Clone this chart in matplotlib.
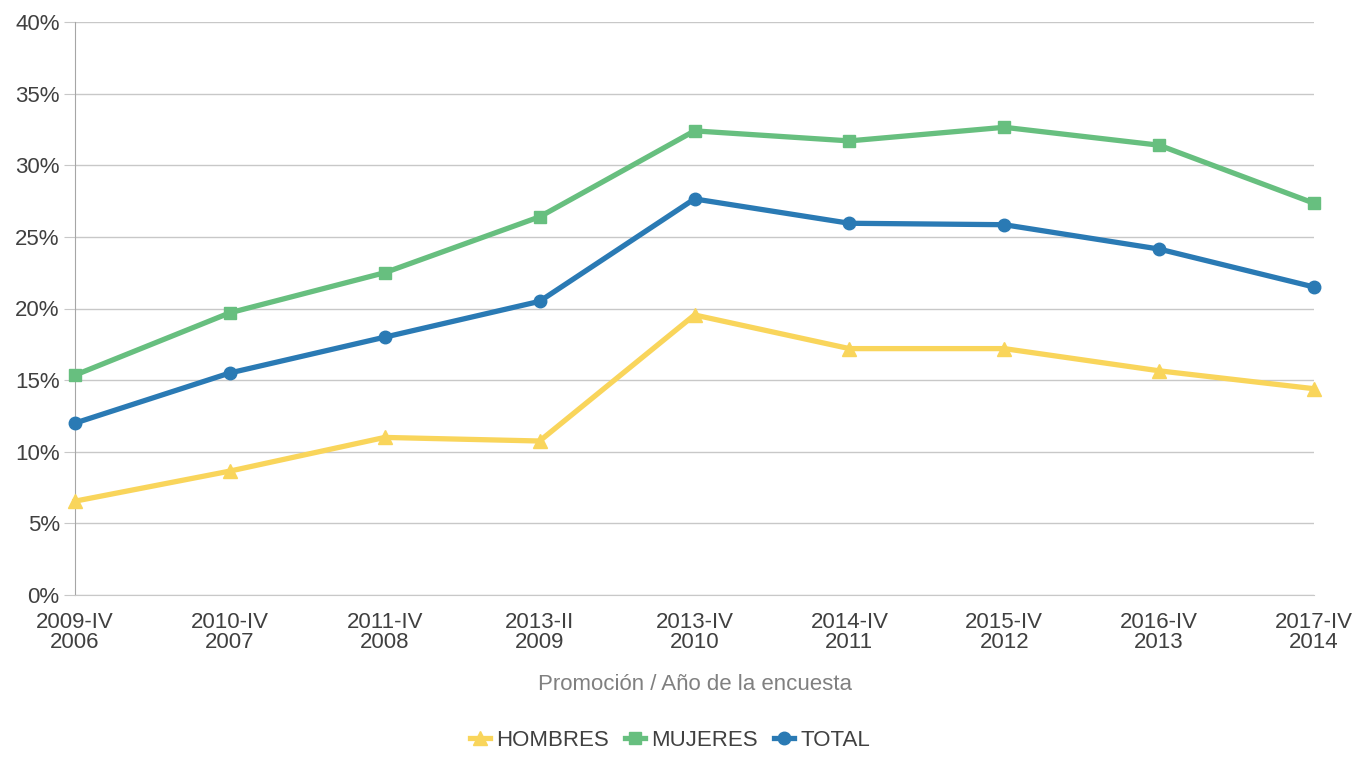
import matplotlib
matplotlib.use("Agg")
import matplotlib.pyplot as plt
from matplotlib.ticker import FuncFormatter, MultipleLocator

plt.rcParams['font.family'] = ['Liberation Sans', 'DejaVu Sans']

categories = ["2009-IV\n2006", "2010-IV\n2007", "2011-IV\n2008", "2013-II\n2009",
              "2013-IV\n2010", "2014-IV\n2011", "2015-IV\n2012", "2016-IV\n2013",
              "2017-IV\n2014"]
hombres = [6.55, 8.65, 11.0, 10.75, 19.55, 17.2, 17.2, 15.65, 14.4]
mujeres = [15.35, 19.7, 22.5, 26.4, 32.4, 31.7, 32.65, 31.4, 27.35]
total = [12.0, 15.5, 18.0, 20.5, 27.65, 25.95, 25.85, 24.15, 21.5]

fig = plt.figure(figsize=(13.56, 7.62), dpi=100)
ax = fig.add_axes([75/1356, 1 - 595/762, (1314 - 75)/1356, (595 - 22)/762])

x = range(len(categories))
ax.plot(x, hombres, color="#F9D55B", lw=3.8, marker="^", ms=10, label="HOMBRES",
        clip_on=False, zorder=3)
ax.plot(x, mujeres, color="#67BF7F", lw=3.8, marker="s", ms=9, label="MUJERES",
        clip_on=False, zorder=3)
ax.plot(x, total, color="#2A7AB4", lw=3.8, marker="o", ms=9, label="TOTAL",
        clip_on=False, zorder=4)

ax.set_xlim(0, len(categories) - 1)
ax.set_ylim(0, 40)
ax.yaxis.set_major_locator(MultipleLocator(5))
ax.yaxis.set_major_formatter(FuncFormatter(lambda v, p: "{:.0f}%".format(v)))
ax.grid(axis="y", color="#C8C8C8", lw=1)
ax.set_axisbelow(True)

for s in ["top", "right"]:
    ax.spines[s].set_visible(False)
ax.spines["left"].set_color("#A6A6A6")
ax.spines["bottom"].set_color("#C8C8C8")

fs = 16
ax.set_xticks(list(x))
ax.set_xticklabels(categories, linespacing=0.95)
ax.tick_params(axis="x", length=0, pad=12, labelsize=fs, labelcolor="#404040")
ax.tick_params(axis="y", length=8, color="#C8C8C8", pad=3, labelsize=fs,
               labelcolor="#404040")

ax.set_xlabel("Promoción / Año de la encuesta", fontsize=fs, color="#808080",
              labelpad=15)

fig.legend(loc="center", bbox_to_anchor=(670/1356, 1 - 740/762), ncol=3,
           frameon=False, fontsize=fs, handlelength=0.9, handletextpad=0.3,
           columnspacing=0.7, labelcolor="#404040")

fig.savefig("out.png", dpi=100)
